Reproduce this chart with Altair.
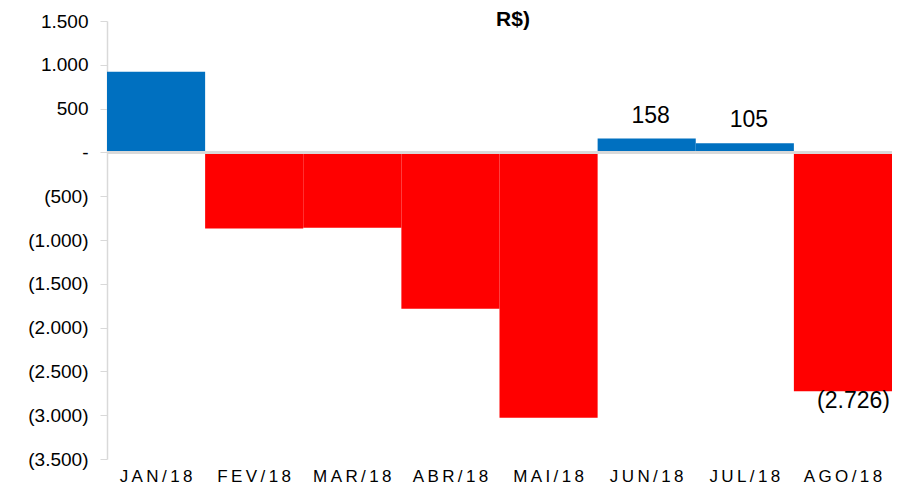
import altair as alt
import pandas as pd

months = ["JAN/18", "FEV/18", "MAR/18", "ABR/18", "MAI/18", "JUN/18", "JUL/18", "AGO/18"]
values = [920, -870, -860, -1784, -3030, 158, 105, -2726]
labels = ["", "", "", "", "", "158", "105", "(2.726)"]
y_ticks = [1500, 1000, 500, 0, -500, -1000, -1500, -2000, -2500, -3000, -3500]
title_text = "R$)"

FONT = "Liberation Sans"
spaced = ["\u2009".join(m) for m in months]

df = pd.DataFrame({"mes": spaced, "valor": values, "rotulo": labels})

x = alt.X("mes:N", sort=spaced, title=None,
          scale=alt.Scale(paddingInner=0, paddingOuter=0),
          axis=alt.Axis(domain=False, ticks=False, labelAngle=0, labelPadding=9,
                        labelFontSize=17, labelFont=FONT, labelColor="#000000"))
y = alt.Y("valor:Q", title=None,
          scale=alt.Scale(domain=[-3500, 1500], nice=False),
          axis=alt.Axis(values=y_ticks, grid=False, domainColor="#d9d9d9", domainWidth=1.5,
                        tickColor="#d9d9d9", tickSize=7, labelPadding=12,
                        labelFontSize=19, labelFont=FONT, labelColor="#000000",
                        labelExpr="datum.value == 0 ? '-\u00a0\u00a0\u00a0' : (datum.value < 0 ? '(' + replace(format(-datum.value, ','), ',', '.') + ')' : replace(format(datum.value, ','), ',', '.') + '\u00a0')"))

base = alt.Chart(df)

bars = base.mark_bar().encode(
    x=x, y=y,
    color=alt.condition(alt.datum.valor > 0, alt.value("#0070C0"), alt.value("#FF0000")),
)

zero = base.mark_rule(color="#d9d9d9", strokeWidth=2).encode(y=alt.datum(0))

pos_lab = base.transform_filter("datum.valor > 0 && datum.rotulo != ''").mark_text(
    font=FONT, fontSize=23, color="#000000", align="center", baseline="alphabetic", dx=4, dy=-16
).encode(x=x, y=y, text="rotulo:N")

neg_lab = base.transform_filter("datum.valor < 0 && datum.rotulo != ''").mark_text(
    font=FONT, fontSize=23, color="#000000", align="right", baseline="alphabetic", dx=47, dy=17
).encode(x=x, y=y, text="rotulo:N")

title = alt.Chart(pd.DataFrame({"t": [title_text]})).mark_text(
    font=FONT, fontSize=21, fontWeight="bold", color="#000000", align="center", baseline="top"
).encode(x=alt.value(406), y=alt.value(-12.5), text="t:N")

chart = alt.layer(bars, zero, pos_lab, neg_lab, title).properties(
    width=785, height=438,
    autosize=alt.AutoSizeParams(type="none"),
    padding={"left": 99, "top": 13, "right": 0, "bottom": 29},
).configure_view(stroke=None)

chart.save("out.html", embed_options={"renderer": "svg", "actions": False})
